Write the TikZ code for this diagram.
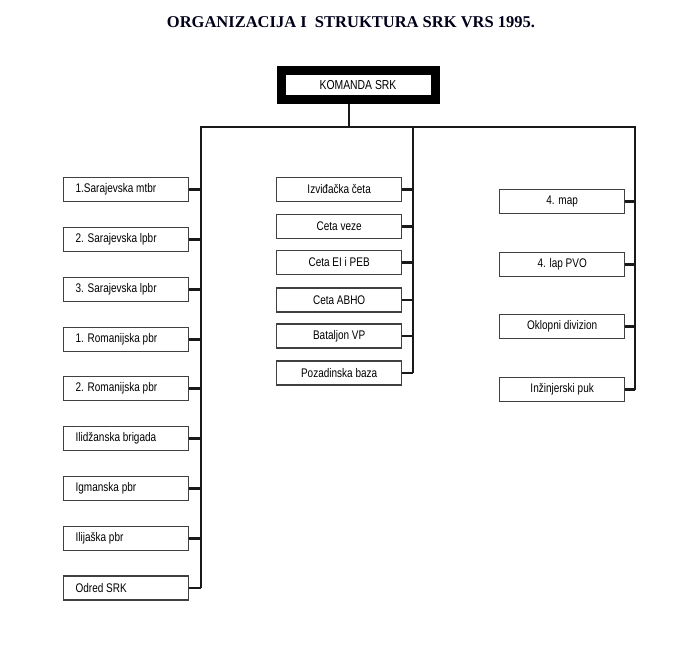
\documentclass[tikz,border=0pt]{standalone}
\usepackage{fontspec}
\setmainfont{Liberation Serif}
\newfontfamily\boxfont[FakeStretch=0.8]{Liberation Sans}
\newcommand{\lefttext}[1]{\makebox[101pt][l]{#1}}
\begin{document}
\begin{tikzpicture}[x=1pt,y=-1pt,
  unit/.style={draw=black!75,line width=1.3pt,fill=white,minimum width=125pt,minimum height=24pt,inner sep=0pt,font=\boxfont\fontsize{12.5}{14}\selectfont},
  cmd/.style={draw=black,line width=9pt,fill=white,minimum width=154pt,minimum height=29.5pt,inner sep=0pt,font=\boxfont\fontsize{13}{15}\selectfont},
  conn/.style={draw=black!90,line width=2.4pt},
  stub/.style={draw=black!90,line width=2.2pt}]
\useasboundingbox (0,0) rectangle (676,667);
\node[font=\bfseries\fontsize{16.5}{18}\selectfont,text=black!90!blue] (title) at (351,22) {ORGANIZACIJA I\ \ STRUKTURA SRK VRS 1995.};
\node[cmd] (k) at (358,85) {KOMANDA SRK};
\coordinate (hub) at (349,127);
\coordinate (L) at (201,127);
\coordinate (M) at (413,127);
\coordinate (R) at (635,127);
% left column
\node[unit,anchor=west] (l1) at (63,189.5) {\lefttext{1.Sarajevska mtbr}};
\node[unit,anchor=west] (l2) at (63,239.5) {\lefttext{2. Sarajevska lpbr}};
\node[unit,anchor=west] (l3) at (63,289.5) {\lefttext{3. Sarajevska lpbr}};
\node[unit,anchor=west] (l4) at (63,339.5) {\lefttext{1. Romanijska pbr}};
\node[unit,anchor=west] (l5) at (63,388.5) {\lefttext{2. Romanijska pbr}};
\node[unit,anchor=west] (l6) at (63,438.5) {\lefttext{Ilidžanska brigada}};
\node[unit,anchor=west] (l7) at (63,488.5) {\lefttext{Igmanska pbr}};
\node[unit,anchor=west] (l8) at (63,538.5) {\lefttext{Ilijaška pbr}};
\node[unit,anchor=west] (l9) at (63,588) {\lefttext{Odred SRK}};
% middle column
\node[unit,anchor=west] (m1) at (276,189.5) {Izviđačka četa};
\node[unit,anchor=west] (m2) at (276,226.5) {Ceta veze};
\node[unit,anchor=west] (m3) at (276,262.5) {Ceta EI i PEB};
\node[unit,anchor=west] (m4) at (276,300) {Ceta ABHO};
\node[unit,anchor=west] (m5) at (276,336) {Bataljon VP};
\node[unit,anchor=west] (m6) at (276,373) {Pozadinska baza};
% right column
\node[unit,anchor=west] (r1) at (499,201.5) {4. map};
\node[unit,anchor=west] (r2) at (499,264.5) {4. lap PVO};
\node[unit,anchor=west] (r3) at (499,326.5) {Oklopni divizion};
\node[unit,anchor=west] (r4) at (499,389.5) {Inžinjerski puk};
% trunk
\draw[conn] (k.south -| hub) -- (hub);
\draw[conn,line join=miter] (l9.east -| L) -- (L) -- (R) -- (r4.east -| R);
\draw[conn] (M) -- (m6.east -| M);
% stubs
\foreach \n in {l1,l2,l3,l4,l5,l6,l7,l8,l9} \draw[stub] (\n.east) -- (\n.east -| L);
\foreach \n in {m1,m2,m3,m4,m5,m6} \draw[stub] (\n.east) -- (\n.east -| M);
\foreach \n in {r1,r2,r3,r4} \draw[stub] (\n.east) -- (\n.east -| R);
\end{tikzpicture}
\end{document}
